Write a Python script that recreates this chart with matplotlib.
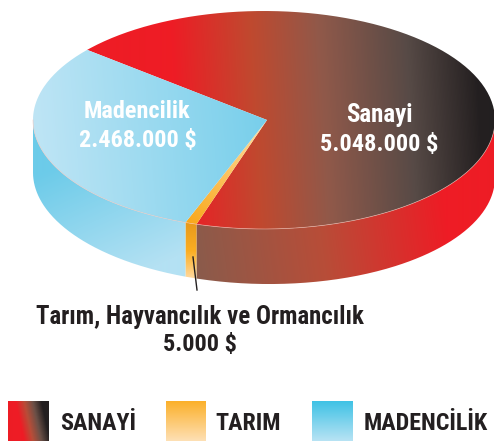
import numpy as np
import matplotlib
matplotlib.use("Agg")
import matplotlib.pyplot as plt
from matplotlib.colors import LinearSegmentedColormap
from matplotlib.patches import PathPatch
from matplotlib.path import Path

plt.rcParams["font.family"] = ["Roboto Condensed", "Barlow Condensed", "Asap Condensed",
                               "Liberation Sans", "DejaVu Sans"]

W, H = 494, 441

# slices as drawn in the picture (percent of the pie, tarim is not to scale there)
labels = ["Sanayi", "Madencilik", "Tarım"]
values = ["5.048.000 $", "2.468.000 $", "5.000 $"]
shares = [68.6, 30.6, 0.8]
start_deg = -107.0

legend_labels = ["SANAYİ", "TARIM", "MADENCİLİK"]
tarim_caption = "Tarım, Hayvancılık ve Ormancılık"

cx, cy, rx, ry = 264, 120, 231, 109
apex = (267, 120)
depth = 55


def rim(t_deg, lower=False):
    t = np.radians(np.asarray(t_deg, dtype=float))
    x = cx + rx * np.cos(t)
    y = cy - ry * np.sin(t)
    if lower:
        # the bottom edge sits a touch deeper on the right than on the left
        y = y + depth + 2.5 * np.cos(t)
    return x, y


def gradient(ax, verts, stops, p0, p1):
    """Fill a polygon with a linear gradient running from p0 to p1."""
    yy, xx = np.mgrid[0:H, 0:W] + 0.5
    d = np.array(p1, dtype=float) - np.array(p0, dtype=float)
    g = ((xx - p0[0]) * d[0] + (yy - p0[1]) * d[1]) / (d @ d)
    cm = LinearSegmentedColormap.from_list("g", stops, N=256)
    im = ax.imshow(g, extent=(0, W, H, 0), cmap=cm, vmin=0, vmax=1,
                   aspect="auto", interpolation="bilinear", zorder=2)
    patch = PathPatch(Path(verts), transform=ax.transData, fc="none", ec="none")
    ax.add_patch(patch)
    im.set_clip_path(patch)


def wedge_top(t0, t1):
    ts = np.linspace(t0, t1, 200)
    x, y = rim(ts)
    return np.vstack([[apex], np.column_stack([x, y]), [apex]])


def wall(t0, t1):
    ts = np.linspace(t0, t1, 200)
    x, y = rim(ts)
    xb, yb = rim(ts[::-1], lower=True)
    return np.vstack([np.column_stack([x, y]), np.column_stack([xb, yb]),
                      [[x[0], y[0]]]])


fig = plt.figure(figsize=(W / 100, H / 100), dpi=100)
ax = fig.add_axes([0, 0, 1, 1])

edges = start_deg + np.cumsum([0] + shares) * 3.6
san0, san1, mad1, tar1 = edges

# walls, front half only
gradient(ax, wall(san0, 0), ["#8B5B4B", "#B84D38", "#EE1C25"], (196, 250), (445, 215))
gradient(ax, wall(mad1 - 360, san0), ["#E89A1C", "#FBAE22", "#FFD99E"], (190, 224), (190, 278))
gradient(ax, wall(180, mad1), ["#6CCBE9", "#B4E1F3"], (70, 160), (125, 280))

# top faces
gradient(ax, wedge_top(san0, san1),
         [(0, "#EE1C25"), (0.12, "#EE1C25"), (0.35, "#C0492F"), (0.55, "#90594A"),
          (0.8, "#574A46"), (1, "#231F20")], (135, 135), (480, 115))
gradient(ax, wedge_top(mad1, tar1), ["#FFE0A8", "#F9A81B"], apex, (190, 224))
gradient(ax, wedge_top(san1, mad1), ["#BFE5F5", "#78CFEB"], (33, 140), (265, 120))

# pale seam along the front rim
xr, yr = rim(np.linspace(180, 360, 300))
ax.plot(xr, yr, color="#F4C3B8", lw=0.5, alpha=0.7, zorder=3)

# slice labels
tkw = dict(ha="center", va="center", fontweight="bold", zorder=5)
ax.text(137, 112, labels[1], color="white", fontsize=17.5, **tkw)
ax.text(138, 140, values[1], color="white", fontsize=17.5, **tkw)
ax.text(379, 115, labels[0], color="white", fontsize=18, **tkw)
ax.text(379.5, 145, values[0], color="white", fontsize=17.6, **tkw)
ax.text(200, 317, tarim_caption, color="#231F20", fontsize=17.8, **tkw)
ax.text(200, 344, values[2], color="#231F20", fontsize=17.5, **tkw)

ax.plot([193, 197], [257, 290], color="#231F20", lw=1.0, zorder=4)

# legend
gradient(ax, [(8, 401), (49, 401), (49, 441), (8, 441), (8, 401)],
         [(0, "#EE1C25"), (0.3, "#EE1C25"), (0.5, "#B84D38"), (0.7, "#6B5047"),
          (0.9, "#231F20"), (1, "#231F20")], (8, 425), (49, 416))
gradient(ax, [(166, 401), (206, 401), (206, 441), (166, 441), (166, 401)],
         ["#FBB02A", "#FEE0B5"], (186, 401), (186, 441))
gradient(ax, [(312, 401), (353, 401), (353, 441), (312, 441), (312, 401)],
         ["#3FC2E5", "#B8E3F4"], (332, 401), (332, 441))
lkw = dict(color="#231F20", fontsize=17.3, ha="left", va="center", fontweight="bold")
ax.text(60, 423, legend_labels[0], **lkw)
ax.text(215, 423, legend_labels[1], **lkw)
ax.text(364, 423, legend_labels[2], **lkw)

ax.set_xlim(0, W)
ax.set_ylim(H, 0)
ax.axis("off")
fig.savefig("out.png", dpi=100)
